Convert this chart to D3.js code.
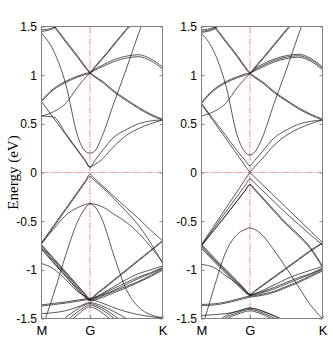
<!DOCTYPE html>
<html>
<head>
<meta charset="utf-8">
<script src="https://cdn.jsdelivr.net/npm/d3@7"></script>
<style>
  body { margin: 0; background: #fff; }
  svg { display: block; }
</style>
</head>
<body>
<div id="chart-container"></div>
<script>
// k path M -> G -> K, sample points shared by every band
const kPts = [0, 0.25, 0.5, 0.75, 0.9, 1, 1.1, 1.25, 1.5, 1.75, 2, 2.25, 2.5];
const kTicks = [0, 1, 2.5];
const kLabels = ['M', 'G', 'K'];
const eTicks = [-1.5, -1, -0.5, 0, 0.5, 1, 1.5];
const eTickLabels = ['-1.5', '-1', '-0.5', '0', '0.5', '1', '1.5'];

// left panel bands (eV); null = branch not drawn there
const bandsLeft = [
  [1.43, 1.25, 0.91, 0.37, 0.22, 0.20, 0.22, 0.37, 0.72, 1.06, 1.42, 1.75, 2.05],
  [0.73, 0.85, 0.925, 0.98, 1.005, 1.02, 1.075, 1.16, 1.31, 1.46, 1.60, 1.75, 1.90],
  [0.742, 0.862, 0.937, 0.992, 1.017, 1.03, 1.087, 1.172, 1.322, 1.472, 1.612, 1.762, 1.912],
  [1.62, 1.50, 1.34, 1.18, 1.08, 1.02, 0.98, 0.93, 0.825, 0.74, 0.66, 0.59, 0.54],
  [1.635, 1.515, 1.355, 1.195, 1.093, 1.03, 0.99, 0.942, 0.837, 0.752, 0.672, 0.602, 0.548],
  [0.58, 0.625, 0.71, 0.88, 0.97, 1.02, 1.05, 1.085, 1.14, 1.175, 1.19, 1.15, 1.065],
  [null, null, null, null, null, 1.02, 1.06, 1.10, 1.16, 1.195, 1.21, 1.17, 1.085],
  [1.465, 1.49, 1.60, 1.72, 1.78, 1.82, 1.86, 1.90, 1.95, 2.0, 2.0, 2.0, 2.0],
  [1.45, 1.48, 1.59, 1.70, 1.76, 1.80, 1.84, 1.88, 1.93, 2.0, 2.0, 2.0, 2.0],
  [0.73, 0.56, 0.39, 0.22, 0.12, 0.05, 0.12, 0.22, 0.365, 0.44, 0.50, 0.53, 0.54],
  [0.58, 0.57, 0.40, 0.23, 0.13, 0.06, 0.08, 0.135, 0.27, 0.38, 0.45, 0.50, 0.54],
  [-0.72, -0.545, -0.37, -0.195, -0.09, -0.02, -0.065, -0.133, -0.247, -0.36, -0.47, -0.59, -0.70],
  [-0.735, -0.56, -0.385, -0.21, -0.105, -0.04, -0.085, -0.15, -0.27, -0.40, -0.54, -0.72, -0.93],
  [-0.73, -0.58, -0.44, -0.36, -0.33, -0.32, -0.325, -0.35, -0.43, -0.51, -0.62, -0.76, -0.92],
  [-1.62, -1.25, -0.85, -0.50, -0.37, -0.32, -0.35, -0.48, -0.86, -1.20, -1.38, -1.46, -1.49],
  [-0.74, -0.88, -1.02, -1.16, -1.245, -1.30, -1.26, -1.20, -1.10, -1.00, -0.90, -0.80, -0.70],
  [-0.752, -0.892, -1.032, -1.172, -1.255, -1.305, -1.268, -1.21, -1.11, -1.01, -0.91, -0.81, -0.708],
  [-0.765, -0.905, -1.045, -1.185, -1.265, -1.31, -1.29, -1.245, -1.17, -1.10, -1.04, -1.00, -0.96],
  [-0.78, -0.92, -1.06, -1.20, -1.275, -1.315, -1.30, -1.27, -1.22, -1.17, -1.12, -1.06, -0.99],
  [-0.79, -0.93, -1.07, -1.21, -1.285, -1.32, -1.31, -1.285, -1.235, -1.185, -1.13, -1.07, -1.005],
  [-0.935, -0.99, -1.10, -1.225, -1.27, -1.295, -1.28, -1.25, -1.19, -1.13, -1.075, -1.03, -0.975],
  [-1.36, -1.345, -1.33, -1.31, -1.30, -1.295, -1.285, -1.26, -1.21, -1.15, -1.09, -1.04, -0.985],
  [-1.372, -1.357, -1.342, -1.322, -1.31, -1.305, -1.315, -1.34, -1.39, -1.43, -1.46, -1.48, -1.495],
  [-1.45, -1.44, -1.42, -1.38, -1.35, -1.335, -1.345, -1.37, -1.43, -1.50, -1.58, -1.66, -1.74],
  [-1.72, -1.60, -1.49, -1.40, -1.36, -1.345, -1.36, -1.39, -1.47, -1.56, -1.66, -1.76, -1.86],
  [-1.78, -1.66, -1.53, -1.43, -1.38, -1.36, -1.375, -1.41, -1.50, -1.60, -1.70, -1.80, -1.90],
  [-1.84, -1.71, -1.57, -1.46, -1.40, -1.38, -1.395, -1.44, -1.54, -1.65, -1.75, -1.85, -1.95]
];

// right panel bands (eV)
const bandsRight = [
  [1.43, 1.25, 0.90, 0.36, 0.21, 0.18, 0.21, 0.35, 0.71, 1.05, 1.41, 1.75, 2.05],
  [0.71, 0.84, 0.92, 0.975, 1.0, 1.015, 1.07, 1.155, 1.305, 1.455, 1.60, 1.75, 1.90],
  [0.722, 0.852, 0.932, 0.987, 1.012, 1.025, 1.082, 1.167, 1.317, 1.467, 1.612, 1.762, 1.912],
  [1.62, 1.50, 1.34, 1.18, 1.075, 1.015, 0.975, 0.925, 0.82, 0.735, 0.655, 0.59, 0.54],
  [1.635, 1.515, 1.355, 1.195, 1.088, 1.025, 0.985, 0.937, 0.832, 0.747, 0.667, 0.602, 0.548],
  [0.58, 0.625, 0.71, 0.88, 0.965, 1.015, 1.045, 1.08, 1.135, 1.17, 1.185, 1.145, 1.055],
  [null, null, null, null, null, 1.015, 1.055, 1.095, 1.15, 1.185, 1.20, 1.16, 1.07],
  [null, null, null, null, null, 1.015, 1.065, 1.11, 1.165, 1.20, 1.215, 1.175, 1.085],
  [1.465, 1.49, 1.60, 1.72, 1.78, 1.82, 1.86, 1.90, 1.95, 2.0, 2.0, 2.0, 2.0],
  [1.45, 1.48, 1.59, 1.70, 1.76, 1.80, 1.84, 1.88, 1.93, 2.0, 2.0, 2.0, 2.0],
  [1.44, 1.47, 1.57, 1.68, 1.74, 1.78, 1.82, 1.86, 1.91, 2.0, 2.0, 2.0, 2.0],
  [0.71, 0.545, 0.38, 0.215, 0.125, 0.07, 0.125, 0.21, 0.355, 0.435, 0.495, 0.525, 0.54],
  [-0.74, -0.555, -0.37, -0.185, -0.074, 0.0, 0.06, 0.14, 0.28, 0.38, 0.45, 0.50, 0.54],
  [0.70, 0.525, 0.35, 0.175, 0.07, 0.0, -0.048, -0.12, -0.24, -0.36, -0.48, -0.60, -0.72],
  [-0.745, -0.575, -0.405, -0.235, -0.135, -0.065, -0.11, -0.18, -0.30, -0.42, -0.53, -0.64, -0.745],
  [-0.75, -0.595, -0.44, -0.28, -0.185, -0.12, -0.17, -0.25, -0.385, -0.52, -0.635, -0.77, -0.96],
  [-0.755, -0.60, -0.445, -0.285, -0.19, -0.13, -0.18, -0.262, -0.40, -0.535, -0.65, -0.785, -0.975],
  [-1.62, -1.20, -0.82, -0.63, -0.585, -0.57, -0.585, -0.64, -0.80, -0.98, -1.17, -1.36, -1.50],
  [-0.74, -0.87, -0.995, -1.12, -1.20, -1.25, -1.215, -1.16, -1.07, -0.98, -0.89, -0.80, -0.72],
  [-0.752, -0.882, -1.007, -1.132, -1.21, -1.257, -1.223, -1.17, -1.08, -0.99, -0.90, -0.81, -0.728],
  [-0.765, -0.895, -1.02, -1.145, -1.22, -1.26, -1.245, -1.215, -1.155, -1.095, -1.045, -1.005, -0.965],
  [-0.78, -0.91, -1.035, -1.16, -1.23, -1.265, -1.255, -1.235, -1.195, -1.145, -1.095, -1.045, -0.99],
  [-0.945, -0.975, -1.06, -1.15, -1.215, -1.255, -1.245, -1.225, -1.18, -1.13, -1.08, -1.04, -0.98],
  [-1.355, -1.35, -1.33, -1.30, -1.28, -1.27, -1.265, -1.25, -1.22, -1.17, -1.12, -1.06, -1.00],
  [-1.367, -1.362, -1.342, -1.312, -1.292, -1.28, -1.275, -1.262, -1.232, -1.182, -1.132, -1.072, -1.012],
  [-1.47, -1.46, -1.45, -1.425, -1.405, -1.395, -1.40, -1.42, -1.47, -1.53, -1.60, -1.68, -1.76],
  [-1.78, -1.58, -1.47, -1.425, -1.40, -1.39, -1.40, -1.425, -1.475, -1.54, -1.62, -1.72, -1.82],
  [-1.80, -1.60, -1.49, -1.44, -1.415, -1.405, -1.415, -1.44, -1.495, -1.56, -1.64, -1.74, -1.84],
  [-1.82, -1.62, -1.51, -1.455, -1.43, -1.42, -1.43, -1.455, -1.515, -1.58, -1.66, -1.76, -1.86]
];

const width = 333, height = 342;
const plotTop = 26.5, plotBottom = 318.5;
const font = "'Liberation Sans', Arial, sans-serif";

const svg = d3.select('#chart-container')
  .append('svg')
  .attr('width', width)
  .attr('height', height);

const yScale = d3.scaleLinear().domain([-1.5, 1.5]).range([plotBottom, plotTop]);

function drawPanel(x0, x1, bands, id) {
  const xScale = d3.scaleLinear().domain([0, 2.5]).range([x0, x1]);
  const g = svg.append('g');

  g.append('clipPath').attr('id', id)
    .append('rect')
    .attr('x', x0).attr('y', plotTop)
    .attr('width', x1 - x0).attr('height', plotBottom - plotTop);

  // pink guide lines at E = 0 and at G
  g.append('line')
    .attr('x1', x0).attr('x2', x1)
    .attr('y1', yScale(0)).attr('y2', yScale(0))
    .attr('stroke', '#f4a3a3').attr('stroke-width', 1.2)
    .attr('stroke-dasharray', '7,1.5,1.5,1.5');
  g.append('line')
    .attr('x1', xScale(1)).attr('x2', xScale(1))
    .attr('y1', plotTop).attr('y2', plotBottom)
    .attr('stroke', '#f4a3a3').attr('stroke-width', 1.2)
    .attr('stroke-dasharray', '7,1.5,1.5,1.5');

  const line = d3.line()
    .defined(d => d != null)
    .x((d, i) => xScale(kPts[i]))
    .y(d => yScale(d))
    .curve(d3.curveMonotoneX);

  g.append('g')
    .attr('clip-path', `url(#${id})`)
    .selectAll('path')
    .data(bands)
    .enter()
    .append('path')
    .attr('d', line)
    .attr('fill', 'none')
    .attr('stroke', '#222')
    .attr('stroke-width', 0.75);

  // y axis, ticks pointing inward
  const yAxis = g.append('g')
    .attr('transform', `translate(${x0},0)`)
    .call(d3.axisLeft(yScale).tickValues(eTicks).tickSize(-3).tickPadding(4.5)
      .tickFormat((d, i) => eTickLabels[i]));
  g.append('g')
    .attr('transform', `translate(${x1},0)`)
    .call(d3.axisRight(yScale).tickValues(eTicks).tickSize(-3).tickFormat(''));

  // x axis
  const xAxis = g.append('g')
    .attr('transform', `translate(0,${plotBottom})`)
    .call(d3.axisBottom(xScale).tickValues(kTicks).tickSize(-3).tickPadding(7)
      .tickFormat((d, i) => kLabels[i]));

  g.selectAll('.domain').remove();
  g.selectAll('.tick line').attr('stroke', '#808080');
  yAxis.selectAll('text').attr('font-family', font).attr('font-size', 12).attr('fill', '#000');
  xAxis.selectAll('text').attr('font-family', font).attr('font-size', 13).attr('fill', '#000');

  g.append('rect')
    .attr('x', x0).attr('y', plotTop)
    .attr('width', x1 - x0).attr('height', plotBottom - plotTop)
    .attr('fill', 'none')
    .attr('stroke', '#808080')
    .attr('stroke-width', 1);
}

drawPanel(41.5, 162.5, bandsLeft, 'clipLeft');
drawPanel(201.5, 322.5, bandsRight, 'clipRight');

svg.append('text')
  .attr('transform', `translate(18,${yScale(0)}) rotate(-90)`)
  .attr('text-anchor', 'middle')
  .attr('font-family', "'Liberation Serif', 'Times New Roman', serif")
  .attr('font-size', 15)
  .text('Energy (eV)');
</script>
</body>
</html>
